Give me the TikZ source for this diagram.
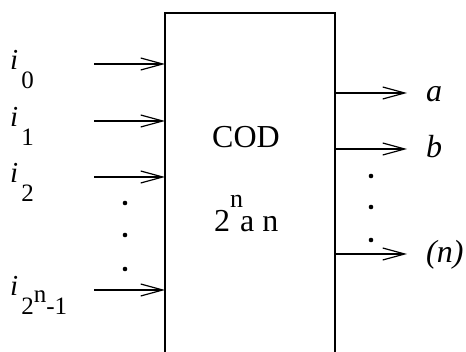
\documentclass[tikz,border=0pt]{standalone}
\usepackage{fontspec}
\newfontfamily\timesfont{Liberation Serif}
\usepackage{tikz}
\usetikzlibrary{positioning, arrows.meta, calc}

\tikzset{
  sig/.style={line width=1.2pt, -{Straight Barb[length=22pt, width=12pt, line width=1.2pt]}},
  big/.style={font=\timesfont\fontsize{32}{36}\selectfont, inner sep=0pt},
  small/.style={font=\timesfont\fontsize{25}{29}\selectfont, inner sep=0pt},
}

\begin{document}
\begin{tikzpicture}[x=1pt, y=-1pt]
  \useasboundingbox (0,0) rectangle (466,352);
  \clip (0,0) rectangle (466,352);
  \node[draw, line width=1.2pt, outer sep=0pt, minimum width=170pt, minimum height=400pt, anchor=north] (cod) at (250,13) {};
  \node[big, anchor=base west] (codname) at (212,148) {COD};
  \node[big, anchor=base west] (codsize) at (214,232) {2\raisebox{24pt}{\fontsize{26}{30}\selectfont n}\kern-3pt a n};
  % inputs
  \foreach \y/\n [count=\k] in {64/0, 121/1, 177/2, 290/{2\raisebox{12pt}{n}-1}}{
    \coordinate (in\k) at (94,\y);
    \draw[sig] (in\k) -- (in\k -| cod.west);
    \node[small, anchor=base west] (i\k) at (10,\y+6) {{\fontsize{29}{32}\selectfont\textit{i}}\kern3pt\raisebox{-19pt}{\n}};
  }
  \foreach \y in {203,235,269} \fill (125,\y) circle (2.3pt);
  % outputs
  \foreach \y/\n/\m in {93/a/a, 149/b/b, 254/{(n)}/n}{
    \coordinate (out\m) at (407,\y);
    \draw[sig] (cod.east |- out\m) -- (out\m);
    \node[big, anchor=base west] (lab\m) at (426,\y+9) {\textit{\n}};
  }
  \foreach \y in {176,207,240} \fill (371,\y) circle (2.3pt);
\end{tikzpicture}
\end{document}
